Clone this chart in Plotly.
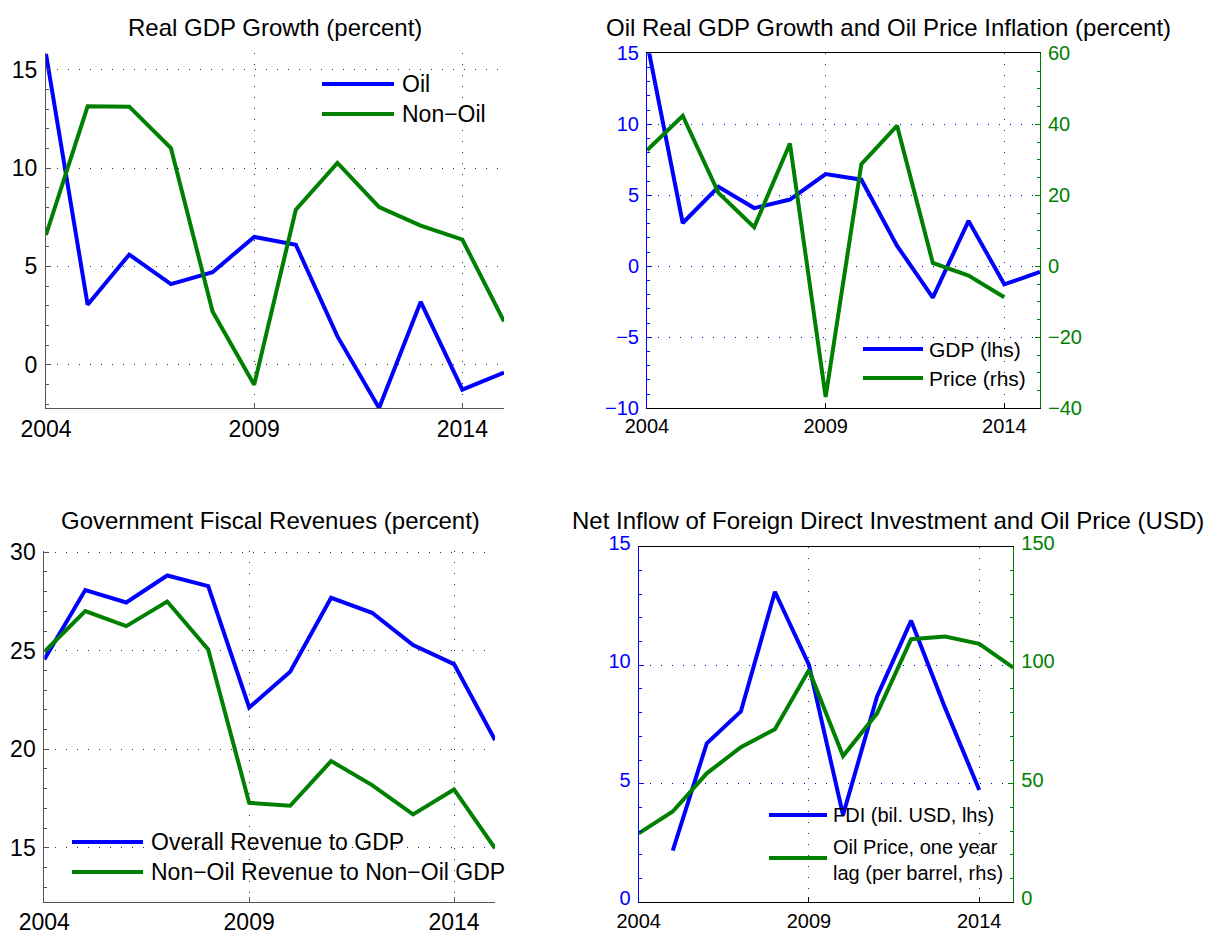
import plotly.graph_objects as go

W, H = 1209, 935

# ---------------- data ----------------
years = list(range(2004, 2016))

oil_gdp = [15.8, 3.05, 5.6, 4.1, 4.7, 6.5, 6.1, 1.44, -2.2, 3.2, -1.27, -0.4]
nonoil_gdp = [6.6, 13.14, 13.12, 11.02, 2.71, -1.02, 7.88, 10.26, 8.02, 7.07, 6.36, 2.2]

oil_price_infl = [32.7, 42.4, 20.7, 11.0, 34.6, -36.8, 28.8, 39.6, 0.95, -2.6, -8.7, None]

overall_rev = [24.56, 28.08, 27.45, 28.82, 28.28, 22.12, 23.93, 27.69, 26.93, 25.29, 24.32, 20.47]
nonoil_rev = [24.95, 27.01, 26.25, 27.5, 25.07, 17.28, 17.13, 19.4, 18.18, 16.69, 17.96, 14.97]

fdi = [None, 2.18, 6.71, 8.05, 13.1, 10.01, 3.68, 8.68, 11.88, 8.19, 4.74, None]
oil_price_lag = [29.1, 38.3, 54.4, 65.4, 73.0, 98.0, 61.7, 79.7, 111.0, 112.1, 109.0, 99.0]

x_ticks = [2004, 2009, 2014]

titles = [
    "Real GDP Growth (percent)",
    "Oil Real GDP Growth and Oil Price Inflation (percent)",
    "Government Fiscal Revenues (percent)",
    "Net Inflow of Foreign Direct Investment and Oil Price (USD)",
]

# ---------------- styling ----------------
BLUE = "#0000ff"
GREEN = "#008000"
FONT = "Liberation Sans, Arial, Helvetica, sans-serif"
FS_LEFT = 23   # tick labels, left-hand panels
FS_P2 = 20     # tick labels, top-right panel
FS_P4 = 20     # tick labels, bottom-right panel
FS_T = 24      # titles
LW = 4


def dx(a, b):
    return [a / W, b / W]


def dy(top, bottom):
    return [1 - bottom / H, 1 - top / H]


fig = go.Figure()

# Panel 1
fig.add_trace(go.Scatter(x=years, y=oil_gdp, mode="lines", line=dict(color=BLUE, width=LW),
                         xaxis="x", yaxis="y", name="Oil", showlegend=False))
fig.add_trace(go.Scatter(x=years, y=nonoil_gdp, mode="lines", line=dict(color=GREEN, width=LW),
                         xaxis="x", yaxis="y", name="Non−Oil", showlegend=False))
# Panel 2
fig.add_trace(go.Scatter(x=years, y=oil_gdp, mode="lines", line=dict(color=BLUE, width=LW),
                         xaxis="x2", yaxis="y2", name="GDP (lhs)", showlegend=False))
fig.add_trace(go.Scatter(x=years, y=oil_price_infl, mode="lines", line=dict(color=GREEN, width=LW),
                         xaxis="x2", yaxis="y3", name="Price (rhs)", showlegend=False))
# Panel 3
fig.add_trace(go.Scatter(x=years, y=overall_rev, mode="lines", line=dict(color=BLUE, width=LW),
                         xaxis="x3", yaxis="y4", name="Overall Revenue to GDP", showlegend=False))
fig.add_trace(go.Scatter(x=years, y=nonoil_rev, mode="lines", line=dict(color=GREEN, width=LW),
                         xaxis="x3", yaxis="y4", name="Non−Oil Revenue to Non−Oil GDP", showlegend=False))
# Panel 4
fig.add_trace(go.Scatter(x=years, y=fdi, mode="lines", line=dict(color=BLUE, width=LW),
                         xaxis="x4", yaxis="y5", name="FDI (bil. USD, lhs)", showlegend=False))
fig.add_trace(go.Scatter(x=years, y=oil_price_lag, mode="lines", line=dict(color=GREEN, width=LW),
                         xaxis="x4", yaxis="y6", name="Oil Price, one year lag (per barrel, rhs)",
                         showlegend=False))

GRID_DASH = "1px,10px"


def xaxis(domain, anchor, fs, mirror=False, linecolor="#555", standoff=0):
    return dict(domain=domain, anchor=anchor, range=[2004, 2015], tickvals=x_ticks,
                showline=True, linecolor=linecolor, linewidth=1, mirror=mirror,
                ticks="inside", ticklen=5, tickcolor=linecolor,
                showgrid=True, gridcolor="#333", griddash=GRID_DASH, gridwidth=1,
                zeroline=False, tickfont=dict(family=FONT, size=fs, color="black"),
                ticklabelstandoff=standoff, fixedrange=True, automargin=False)


def yaxis(domain, anchor, rng, dtick, fs, color="#555", fontcolor="black", side="left",
          overlaying=None, grid=True, gridcolor="#333", minor_dtick=1, shift=0):
    d = dict(domain=domain, anchor=anchor, range=rng, dtick=dtick, tick0=0, side=side,
             showline=True, linecolor=color, linewidth=1,
             ticks="inside", ticklen=5, tickcolor=color,
             minor=dict(ticks="inside", ticklen=3, dtick=minor_dtick, tickcolor=color),
             showgrid=grid, gridcolor=gridcolor, griddash=GRID_DASH, gridwidth=1,
             zeroline=False, tickfont=dict(family=FONT, size=fs, color=fontcolor),
             fixedrange=True, automargin=False, ticklabelstandoff=3,
             ticklabelshift=shift)
    if overlaying:
        d["overlaying"] = overlaying
    return d


fig.update_layout(
    width=W, height=H, margin=dict(l=0, r=0, t=0, b=0, autoexpand=False), autosize=False,
    paper_bgcolor="white", plot_bgcolor="rgba(0,0,0,0)", showlegend=False,
    font=dict(family=FONT, size=FS_LEFT, color="black"),
    xaxis=xaxis(dx(46, 504), "y", FS_LEFT),
    yaxis=yaxis(dy(53, 408), "x", [-2.2, 15.85], 5, FS_LEFT),
    xaxis2=xaxis(dx(647, 1040), "y2", FS_P2, mirror=True, linecolor="black"),
    yaxis2=yaxis(dy(53.3, 408.3), "x2", [-10, 15], 5, FS_P2, color=BLUE, fontcolor=BLUE,
                 gridcolor=BLUE),
    yaxis3=yaxis(dy(53.3, 408.3), "x2", [-40, 60], 20, FS_P2, color=GREEN, fontcolor=GREEN,
                 side="right", overlaying="y2", grid=False, minor_dtick=5),
    xaxis3=xaxis(dx(44.3, 495), "y4", FS_LEFT),
    yaxis4=yaxis(dy(550.7, 901.7), "x3", [12.26, 30.08], 5, FS_LEFT),
    xaxis4=xaxis(dx(638.7, 1013.3), "y5", FS_P4, mirror=True, linecolor="black", standoff=1),
    yaxis5=yaxis(dy(546.7, 902.3), "x4", [0, 15], 5, FS_P4, color=BLUE, fontcolor=BLUE,
                 gridcolor=BLUE, shift=-4),
    yaxis6=yaxis(dy(546.7, 902.3), "x4", [0, 150], 50, FS_P4, color=GREEN, fontcolor=GREEN,
                 side="right", overlaying="y5", grid=False, minor_dtick=10, shift=-4),
)

annotations = []
shapes = []

# titles
for text, cx, cy in [(titles[0], 275, 27), (titles[1], 888, 27),
                     (titles[2], 270, 520), (titles[3], 888, 520)]:
    annotations.append(dict(text=text, x=cx / W, y=1 - cy / H, xref="paper", yref="paper",
                            xanchor="center", yanchor="middle", showarrow=False,
                            font=dict(family=FONT, size=FS_T, color="black")))


def legend_entry(x0, x1, y, color, label, tx, fs, ty=None):
    shapes.append(dict(type="line", xref="paper", yref="paper", x0=x0 / W, x1=x1 / W,
                       y0=1 - y / H, y1=1 - y / H, line=dict(color=color, width=LW)))
    annotations.append(dict(text=label, x=tx / W, y=1 - (ty if ty else y) / H,
                            xref="paper", yref="paper", xanchor="left", yanchor="middle",
                            showarrow=False, align="left",
                            font=dict(family=FONT, size=fs, color="black")))


legend_entry(322, 394, 84, BLUE, "Oil", 400, 23)
legend_entry(322, 394, 114, GREEN, "Non−Oil", 400, 23)
legend_entry(863, 923, 349, BLUE, "GDP (lhs)", 927, 21)
legend_entry(863, 923, 378, GREEN, "Price (rhs)", 927, 21)
legend_entry(72, 143, 842, BLUE, "Overall Revenue to GDP", 149, 23)
legend_entry(72, 143, 872, GREEN, "Non−Oil Revenue to Non−Oil GDP", 149, 23)
legend_entry(769, 827, 815, BLUE, "FDI (bil. USD, lhs)", 831, 20)
legend_entry(769, 827, 858, GREEN, "Oil Price, one year<br>lag (per barrel, rhs)", 831, 20, 860)

fig.update_layout(annotations=annotations, shapes=shapes)

fig.write_html("out.html", config={"displayModeBar": False},
               post_script="document.body.style.margin='0';document.body.style.padding='0';")
